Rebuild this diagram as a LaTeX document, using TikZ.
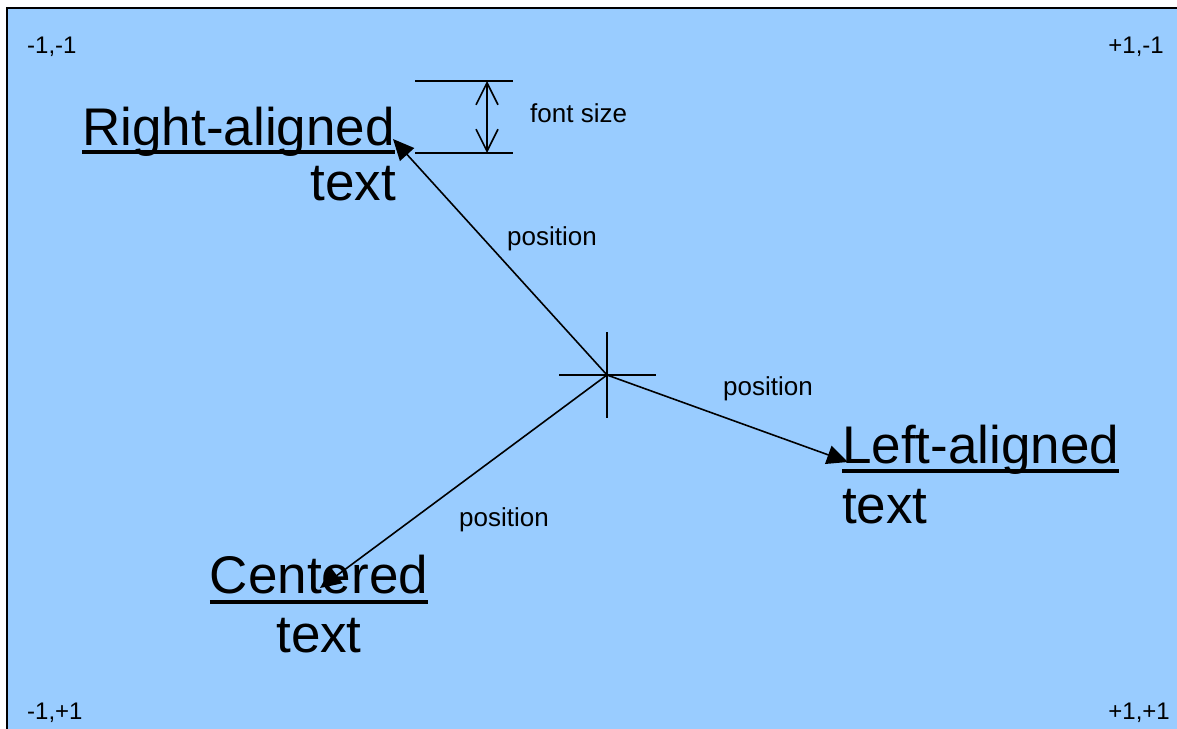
\documentclass[tikz,border=0pt]{standalone}
\usepackage{fontspec}
\setmainfont{Liberation Sans}
\usetikzlibrary{arrows.meta}
\definecolor{bg}{HTML}{99CCFF}
\begin{document}
\begin{tikzpicture}[x=1pt,y=-1pt,
  big/.style={inner sep=0pt,font=\fontsize{53}{60}\selectfont},
  small/.style={inner sep=0pt,font=\fontsize{26}{30}\selectfont},
  corner/.style={inner sep=0pt,font=\fontsize{24}{28}\selectfont},
  conn/.style={line width=1.6pt,-{Triangle[length=21pt,width=19pt]}},
  ul/.style={line width=3.5pt},
  thin/.style={line width=1.6pt},
  dim/.style={line width=1.6pt,{Straight Barb[length=22pt,width=22pt]}-{Straight Barb[length=22pt,width=22pt]}}]
\useasboundingbox (0,0) rectangle (1177,728);
\clip (0,0) rectangle (1177,728);
\fill[white] (0,0) rectangle (1177,728);
\filldraw[fill=bg,draw=black,line width=2.5pt] (7,8) rectangle (1200,750);

% corner labels
\node[corner,anchor=base west] (tl) at (27,53) {-1,-1};
\node[corner,anchor=base east] (tr) at (1164,53) {+1,-1};
\node[corner,anchor=base west] (bl) at (27,719) {-1,+1};
\node[corner,anchor=base east] (br) at (1170,719) {+1,+1};

% centre cross
\coordinate (c) at (607,375);
\draw[thin] (559,375) -- (656,375);
\draw[thin] (607,332) -- (607,418);

% texts
\node[big,anchor=base east] (ra) at (395,145) {Right-aligned};
\node[big,anchor=base east] (ra2) at (396,200) {text};
\draw[ul] ([yshift=-7pt]ra.base west) -- ([yshift=-7pt]ra.base east);

\node[big,anchor=base west] (la) at (842,463) {Left-aligned};
\node[big,anchor=base west] (la2) at (842,523) {text};
\draw[ul] ([yshift=-8pt]la.base west) -- ([yshift=-8pt]la.base east);

\node[big,anchor=base] (ce) at (319,593) {Centered};
\node[big,anchor=base] (ce2) at (319,652) {text};
\draw[ul] ([yshift=-9pt]ce.base west) -- ([yshift=-9pt]ce.base east);

% connectors
\coordinate (tra) at (393,139);
\coordinate (tla) at (848,462);
\coordinate (tce) at (320,588);
\draw[conn] (c) -- (tra);
\draw[conn] (c) -- (tla);
\draw[conn] (c) -- (tce);

\node[small,anchor=base] (p1) at (552,245) {position};
\node[small,anchor=base] (p2) at (768,395) {position};
\node[small,anchor=base] (p3) at (504,526) {position};

% font size dimension
\coordinate (d1) at (487,81);
\coordinate (d2) at (487,153);
\draw[thin] (415,81) -- (513,81);
\draw[thin] (415,153) -- (513,153);
\draw[dim] (d1) -- (d2);
\node[small,anchor=base west] (fs) at (530,122) {font size};
\end{tikzpicture}
\end{document}
